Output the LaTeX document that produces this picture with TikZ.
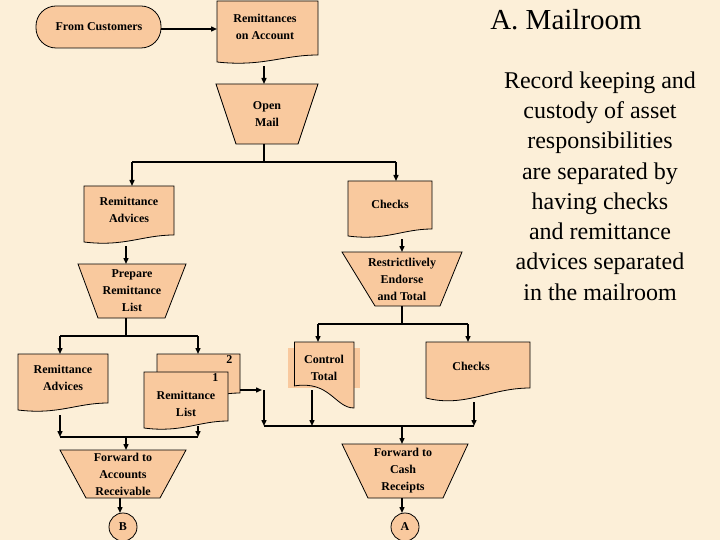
\documentclass[tikz,border=0pt]{standalone}
\usepackage{fontspec}
\setmainfont{Liberation Serif}
\usetikzlibrary{arrows.meta}
\definecolor{bg}{HTML}{FCEFD8}
\definecolor{peach}{HTML}{F9C99E}
\tikzset{
  shp/.style={fill=peach,draw=black,line width=0.8pt},
  lbl/.style={align=center,font=\bfseries\fontsize{12}{17}\selectfont},
  con/.style={line width=1.4pt},
  arr/.style={con,-{Triangle[length=6pt,width=5pt]}},
}
\newcommand\mydoc[4]{\filldraw[shp] (#1,#2) -- (#3,#2) -- (#3,#4-9)
  .. controls ({#3-0.35*(#3-#1)},#4-9) and ({#1+0.45*(#3-#1)},#4+3) .. (#1,#4-2) -- cycle;}
\newcommand\mytrap[6]{\filldraw[shp] (#1,#3) -- (#2,#3) -- (#5,#6) -- (#4,#6) -- cycle;}
\begin{document}
\begin{tikzpicture}[x=1pt,y=-1pt]
\fill[bg] (0,0) rectangle (720,540);
\useasboundingbox (0,0) rectangle (720,540);
% shapes
\filldraw[shp,rounded corners=20pt] (36,6) rectangle (161,48);
\node[lbl] (fc) at (99,27) {From Customers};
\mydoc{217}{1}{318}{64}
\node[lbl] (ra) at (265,27) {Remittances\\on Account};
\mytrap{216}{318}{84}{236}{298}{144}
\node[lbl] (om) at (267,114) {Open\\Mail};
\mydoc{84}{186}{174}{244}
\node[lbl] (adv1) at (129,210) {Remittance\\Advices};
\mydoc{348}{181}{432}{238}
\node[lbl] (ch1) at (390,204) {Checks};
\mytrap{78}{186}{264}{98}{165}{318}
\node[lbl] (prl) at (132,291) {Prepare\\Remittance\\List};
\mytrap{342}{462}{252}{375}{440}{306}
\node[lbl] (end) at (402,279) {Restrictlively\\Endorse\\and Total};
\mydoc{18}{354}{108}{412}
\node[lbl] (adv2) at (63,378) {Remittance\\Advices};
\mydoc{157}{354}{240}{402}
\mydoc{144}{372}{228}{430}
\node[lbl,anchor=east] (n2) at (236,360) {2};
\node[lbl,anchor=east] (n1) at (222,378) {1};
\node[lbl] (rl) at (186,404) {Remittance\\List};
\fill[peach] (288,348) rectangle (360,388);
\filldraw[shp] (294,342) -- (354,342) -- (354,408) .. controls (335,408) and (330,380) .. (294,386);
\draw[line width=0.8pt] (294,342) -- (294,386);
\node[lbl] (ct) at (324,368) {Control\\Total};
\filldraw[shp] (426,342) -- (530,342) -- (530,388) .. controls (490,388) and (465,408) .. (426,398) -- cycle;
\node[lbl] (ch2) at (471,366) {Checks};
\mytrap{60}{186}{450}{86}{160}{498}
\node[lbl] (far) at (123,474) {Forward to\\Accounts\\Receivable};
\mytrap{342}{468}{444}{368}{443}{498}
\node[lbl] (fcr) at (403,471) {Forward to\\Cash\\Receipts};
\filldraw[shp] (123,527) circle (14);
\node[lbl] (B) at (123,527) {B};
\filldraw[shp] (405,527) circle (14);
\node[lbl] (A) at (405,527) {A};
% connectors
\coordinate (j1) at (264,162);
\coordinate (j2) at (126,336);
\coordinate (j3) at (60,437);
\coordinate (j4) at (198,437);
\coordinate (j5) at (402,324);
\coordinate (j6) at (264,426);
\coordinate (j7) at (474,426);
\draw[arr] (161,29) -- (217,29);
\draw[arr] (264,66) -- (264,84);
\draw[con] (264,144) -- (j1);
\draw[con] (132,162) -- (396,162);
\draw[arr] (132,162) -- (132,186);
\draw[arr] (396,162) -- (396,181);
\draw[arr] (126,246) -- (126,264);
\draw[arr] (402,239) -- (402,252);
\draw[con] (126,318) -- (j2);
\draw[con] (60,336) -- (198,336);
\draw[arr] (60,336) -- (60,354);
\draw[arr] (198,336) -- (198,354);
\draw[arr] (60,415) -- (j3);
\draw[arr] (198,426) -- (j4);
\draw[con] (j3) -- (j4);
\draw[arr] (126,437) -- (126,450);
\draw[arr] (120,498) -- (120,513);
\draw[con] (402,306) -- (j5);
\draw[con] (318,324) -- (468,324);
\draw[arr] (318,324) -- (318,342);
\draw[arr] (468,324) -- (468,342);
\draw[arr] (240,390) -- (262,390);
\draw[arr] (264,390) -- (j6);
\draw[arr] (312,390) -- (312,426);
\draw[arr] (474,402) -- (j7);
\draw[con] (j6) -- (j7);
\draw[arr] (402,426) -- (402,444);
\draw[arr] (402,498) -- (402,513);
% right text
\node[font=\fontsize{29}{30}\selectfont] (title) at (566,20) {A. Mailroom};
\node[align=center,font=\fontsize{24}{30.3}\selectfont] (para) at (600,186)
 {Record keeping and\\custody of asset\\responsibilities\\are separated by\\having checks\\and remittance\\advices separated\\in the mailroom};
\end{tikzpicture}
\end{document}
